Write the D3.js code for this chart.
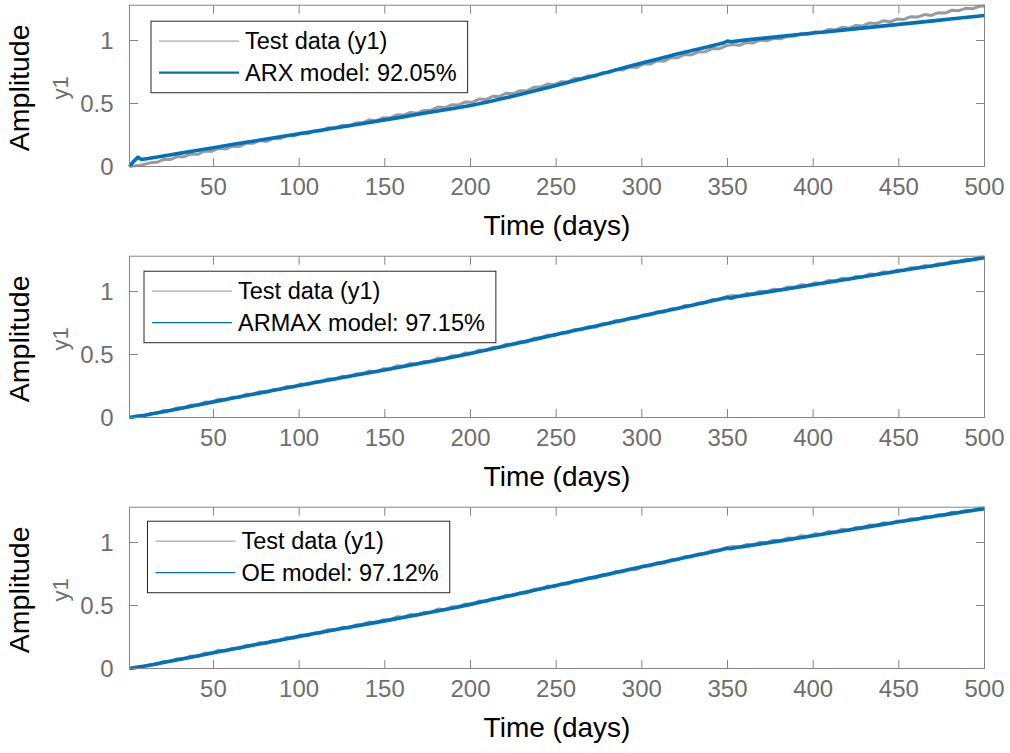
<!DOCTYPE html>
<html><head><meta charset="utf-8">
<script src="https://cdn.jsdelivr.net/npm/d3@7"></script>
<style>body{margin:0;background:#fff}svg{display:block;font-family:"Liberation Sans",Arial,sans-serif}</style>
</head><body><svg id="c" width="1010" height="753"></svg>
<script>
// ---------- data ----------
const testDays = d3.range(1, 498, 4).concat([500]);
const testData = [
0.000,0.007,0.015,0.029,0.033,0.056,0.056,0.078,0.078,0.100,
0.097,0.123,0.121,0.145,0.139,0.160,0.158,0.184,0.184,0.206,
0.199,0.223,0.223,0.247,0.241,0.266,0.260,0.282,0.282,0.308,
0.305,0.327,0.321,0.345,0.347,0.370,0.362,0.386,0.384,0.410,
0.407,0.429,0.423,0.445,0.447,0.472,0.466,0.490,0.488,0.512,
0.509,0.535,0.531,0.557,0.556,0.582,0.578,0.602,0.600,0.628,
0.630,0.654,0.649,0.673,0.671,0.699,0.699,0.721,0.717,0.745,
0.745,0.770,0.766,0.790,0.786,0.814,0.813,0.840,0.836,0.863,
0.863,0.889,0.885,0.909,0.910,0.936,0.934,0.958,0.969,0.962,
0.984,0.981,1.003,0.998,1.018,1.013,1.035,1.033,1.054,1.048,
1.069,1.063,1.088,1.084,1.105,1.097,1.120,1.116,1.139,1.135,
1.156,1.148,1.170,1.167,1.189,1.186,1.206,1.199,1.221,1.218,
1.240,1.237,1.255,1.252,1.272,1.274];

const arxDays = [1,3,6,8,10,20,30,40,50,60,70,80,90,100,110,120,130,140,150,160,170,180,190,200,210,220,230,240,250,260,270,280,290,300,310,320,330,340,348,350,352,360,370,380,390,400,410,420,430,440,450,460,470,480,490,500];
const arxValues = [0.000,0.035,0.074,0.056,0.060,0.082,0.104,0.127,0.149,0.172,0.194,0.216,0.238,0.260,0.282,0.304,0.326,0.348,0.370,0.392,0.416,0.438,0.461,0.484,0.512,0.543,0.575,0.609,0.643,0.678,0.713,0.749,0.785,0.821,0.856,0.890,0.923,0.955,0.982,0.996,0.990,1.003,1.017,1.031,1.045,1.059,1.072,1.086,1.100,1.114,1.128,1.142,1.156,1.170,1.184,1.198];

const modelDays = [1,5,10,15,20,30,40,50,60,70,80,90,100,110,120,130,140,150,160,170,180,190,200,210,220,230,240,250,260,270,280,290,300,310,320,330,340,345,350,352,355,360,370,380,390,400,410,420,430,440,450,460,470,480,490,500];
const armaxValues = [0.000,0.010,0.018,0.032,0.044,0.070,0.097,0.124,0.150,0.176,0.202,0.228,0.254,0.279,0.304,0.329,0.353,0.377,0.402,0.428,0.453,0.480,0.508,0.538,0.568,0.598,0.628,0.658,0.688,0.717,0.746,0.776,0.806,0.835,0.864,0.893,0.922,0.938,0.953,0.946,0.958,0.968,0.989,1.010,1.031,1.053,1.075,1.097,1.119,1.141,1.163,1.184,1.205,1.226,1.247,1.268];
const oeValues = [0.000,0.009,0.020,0.031,0.045,0.071,0.098,0.125,0.151,0.177,0.203,0.229,0.255,0.280,0.305,0.330,0.354,0.378,0.403,0.429,0.454,0.481,0.509,0.539,0.569,0.599,0.629,0.659,0.689,0.718,0.747,0.777,0.807,0.836,0.865,0.894,0.923,0.939,0.955,0.950,0.960,0.969,0.990,1.011,1.032,1.054,1.076,1.098,1.120,1.142,1.164,1.185,1.206,1.227,1.248,1.269];

const xTicks = [50,100,150,200,250,300,350,400,450,500];
const yTicks = [0,0.5,1];
const yTickLabels = ["0","0.5","1"];
const testLabel = "Test data (y1)";
const modelLabels = ["ARX model: 92.05%","ARMAX model: 97.15%","OE model: 97.12%"];

// ---------- layout ----------
const svg = d3.select("#c");
const left = 129.5, right = 984.5;
const bottoms = [166.5, 417.5, 668.5];
const legendLeft = [151, 144, 147.5];
const legendTopOff = [16, 15, 14];
const modelSets = [[arxDays, arxValues, 3.6, 2.2],[modelDays, armaxValues, 3.6, 1.2],[modelDays, oeValues, 3.6, 1.2]];
const axisCol = "#858585", tickCol = "#6e6e6e", blue = "#0072BD", grayData = "#9a9a9a";

const x = d3.scaleLinear().domain([1,500]).range([left,right]);

bottoms.forEach((b, i) => {
  const y = d3.scaleLinear().domain([0,1.28]).range([b, b - 1.28*126]);
  const top = y(1.28);
  const g = svg.append("g");

  // data lines
  const testPts = testDays.map((d,k)=>[d,testData[k]]);
  const line = d3.line().x(d=>x(d[0])).y(d=>y(d[1]));
  g.append("path").attr("d", line(testPts)).attr("fill","none")
    .attr("stroke",grayData).attr("stroke-width",3).attr("stroke-linejoin","round");
  const [md, mv, mw] = modelSets[i];
  g.append("path").attr("d", line(md.map((d,k)=>[d,mv[k]]))).attr("fill","none")
    .attr("stroke",blue).attr("stroke-width",mw).attr("stroke-linejoin","round");

  // box
  g.append("rect").attr("x",left).attr("y",top).attr("width",right-left).attr("height",b-top)
    .attr("fill","none").attr("stroke",axisCol).attr("stroke-width",1);
  const tl = 8.5;
  xTicks.forEach(t => {
    g.append("line").attr("x1",x(t)).attr("x2",x(t)).attr("y1",b).attr("y2",b-tl).attr("stroke",axisCol);
    g.append("line").attr("x1",x(t)).attr("x2",x(t)).attr("y1",top).attr("y2",top+tl).attr("stroke",axisCol);
    g.append("text").attr("x",x(t)).attr("y",b+28.5).attr("text-anchor","middle")
      .attr("font-size",24).attr("fill",tickCol).text(t);
  });
  yTicks.forEach((t,k) => {
    g.append("line").attr("x1",left).attr("x2",left+tl).attr("y1",y(t)).attr("y2",y(t)).attr("stroke",axisCol);
    g.append("line").attr("x1",right).attr("x2",right-tl).attr("y1",y(t)).attr("y2",y(t)).attr("stroke",axisCol);
    g.append("text").attr("x",left-16).attr("y",y(t)).attr("dy","0.35em").attr("text-anchor","end")
      .attr("font-size",24).attr("fill",tickCol).text(yTickLabels[k]);
  });

  // axis labels
  const cy = (top + b)/2 + 2;
  g.append("text").attr("transform",`translate(28.5,${cy}) rotate(-90)`).attr("text-anchor","middle")
    .attr("font-size",28.5).attr("fill","#000").text("Amplitude");
  g.append("text").attr("transform",`translate(68,${cy}) rotate(-90)`).attr("text-anchor","middle")
    .attr("font-size",22).attr("fill",tickCol).text("y1");
  g.append("text").attr("x",(left+right)/2).attr("y",b+68.5).attr("text-anchor","middle")
    .attr("font-size",28).attr("fill","#000").text("Time (days)");

  // legend
  const L = legendLeft[i], T = top + legendTopOff[i];
  const lg = g.append("g");
  const box = lg.append("rect").attr("x",L).attr("y",T).attr("height",71.5)
    .attr("fill","#fff").attr("stroke","#262626").attr("stroke-width",1);
  lg.append("line").attr("x1",L+8).attr("x2",L+88).attr("y1",T+20).attr("y2",T+20)
    .attr("stroke","#a8a8a8").attr("stroke-width",1.2);
  lg.append("line").attr("x1",L+8).attr("x2",L+88).attr("y1",T+51.5).attr("y2",T+51.5)
    .attr("stroke",blue).attr("stroke-width",modelSets[i][3]);
  const t1 = lg.append("text").attr("x",L+94).attr("y",T+20).attr("dy","0.35em")
    .attr("font-size",23.5).attr("fill","#000").text(testLabel);
  const t2 = lg.append("text").attr("x",L+94).attr("y",T+51.5).attr("dy","0.35em")
    .attr("font-size",23.5).attr("fill","#000").text(modelLabels[i]);
  const w = Math.max(t1.node().getComputedTextLength(), t2.node().getComputedTextLength());
  box.attr("width", 94 + w + 11);
});
</script></body></html>
